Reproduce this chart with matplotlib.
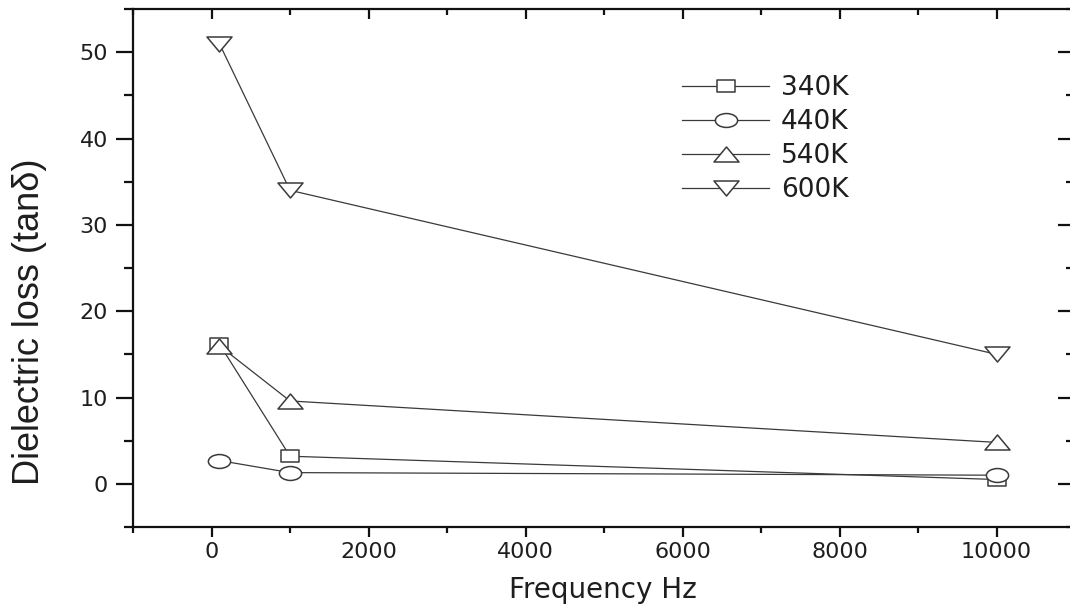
import matplotlib
matplotlib.use("Agg")
import matplotlib.pyplot as plt
from matplotlib.path import Path
from matplotlib.transforms import Affine2D
from matplotlib.ticker import MultipleLocator, NullFormatter

# ---- data ----
freq = [100, 1000, 10000]
series_labels = ["340K", "440K", "540K", "600K"]
loss_340K = [16.2, 3.2, 0.5]
loss_440K = [2.7, 1.3, 1.0]
loss_540K = [16.0, 9.6, 4.8]
loss_600K = [51.0, 34.0, 15.0]
x_ticks = [0, 2000, 4000, 6000, 8000, 10000]
y_ticks = [0, 10, 20, 30, 40, 50]

# ---- wide marker shapes (reference markers are horizontally stretched) ----
rect_m = Path([(-0.75, -0.5), (0.75, -0.5), (0.75, 0.5), (-0.75, 0.5), (-0.75, -0.5)],
              [Path.MOVETO, Path.LINETO, Path.LINETO, Path.LINETO, Path.CLOSEPOLY])
ell_m = Affine2D().scale(1.6, 1.0).transform_path(Path.unit_circle())
tri_up = Path([(-1, -0.6), (1, -0.6), (0, 0.6), (-1, -0.6)],
              [Path.MOVETO, Path.LINETO, Path.LINETO, Path.CLOSEPOLY])
tri_dn = Path([(-1, 0.6), (1, 0.6), (0, -0.6), (-1, 0.6)],
              [Path.MOVETO, Path.LINETO, Path.LINETO, Path.CLOSEPOLY])

W, H = 1070, 612
fig = plt.figure(figsize=(W / 100, H / 100), dpi=100)
ax_left, ax_right, ax_top, ax_bot = 133, 1075, 9, 527
ax = fig.add_axes([ax_left / W, 1 - ax_bot / H, (ax_right - ax_left) / W, (ax_bot - ax_top) / H])

lc = "#3a3a3a"
tc = "#111111"
styles = [
    (loss_340K, rect_m, 13),
    (loss_440K, ell_m, 16),
    (loss_540K, tri_up, 18),
    (loss_600K, tri_dn, 18),
]
for (vals, mk, ms), lab in zip(styles, series_labels):
    ax.plot(freq, vals, color=lc, lw=0.9, marker=mk, ms=ms, mfc="white",
            mec=lc, mew=1.1, label=lab)

ax.set_xlim(-1000, 11000)
ax.set_ylim(-5, 55)
ax.set_xticks(x_ticks)
ax.set_yticks(y_ticks)
ax.xaxis.set_minor_locator(MultipleLocator(1000))
ax.yaxis.set_minor_locator(MultipleLocator(5))

for name in ["left", "bottom", "top"]:
    ax.spines[name].set_linewidth(1.6)
    ax.spines[name].set_color(tc)
ax.spines["right"].set_visible(False)

# bottom / left: outward ticks with labels
ax.tick_params(axis="x", which="major", direction="out", length=7, width=1.6,
               labelsize=16, pad=4, color=tc, labelcolor="#1e1e1e")
ax.tick_params(axis="x", which="minor", direction="out", length=4, width=1.6, color=tc)
ax.tick_params(axis="y", which="major", direction="out", length=12, width=1.6,
               labelsize=16, pad=6, color=tc, labelcolor="#1e1e1e")
ax.tick_params(axis="y", which="minor", direction="out", length=6.5, width=1.6, color=tc)
for lbl in ax.get_xticklabels() + ax.get_yticklabels():
    lbl.set_fontfamily("DejaVu Sans")

# top / right: inward ticks, no labels
secx = ax.secondary_xaxis("top")
secx.set_xticks(x_ticks)
secx.xaxis.set_minor_locator(MultipleLocator(1000))
secx.xaxis.set_major_formatter(NullFormatter())
secx.tick_params(axis="x", which="major", direction="in", length=7, width=1.6, color=tc)
secx.tick_params(axis="x", which="minor", direction="in", length=4, width=1.6, color=tc)
for s in secx.spines.values():
    s.set_visible(False)

secy = ax.secondary_yaxis("right")
secy.set_yticks(y_ticks)
secy.yaxis.set_minor_locator(MultipleLocator(5))
secy.yaxis.set_major_formatter(NullFormatter())
secy.tick_params(axis="y", which="major", direction="in", length=12, width=1.6, color=tc)
secy.tick_params(axis="y", which="minor", direction="in", length=6.5, width=1.6, color=tc)
for s in secy.spines.values():
    s.set_visible(False)

fig.text(603 / W, 1 - 590 / H, "Frequency Hz", ha="center", va="center",
         fontsize=20, family="DejaVu Sans", color="#1e1e1e")
fig.text(30 / W, 1 - 322 / H, "Dielectric loss (tanδ)", ha="center", va="center",
         rotation=90, fontsize=26, family=["Liberation Sans", "DejaVu Sans"], color="#1e1e1e")

leg = ax.legend(loc="upper left", bbox_to_anchor=(682 / W, 1 - 75 / H),
                bbox_transform=fig.transFigure, frameon=False, borderpad=0,
                borderaxespad=0, handlelength=3.3, handletextpad=0.45,
                labelspacing=0.3, prop={"family": "DejaVu Sans", "size": 19})
for t in leg.get_texts():
    t.set_color("#1e1e1e")

fig.savefig("out.png", dpi=100, facecolor="white")
